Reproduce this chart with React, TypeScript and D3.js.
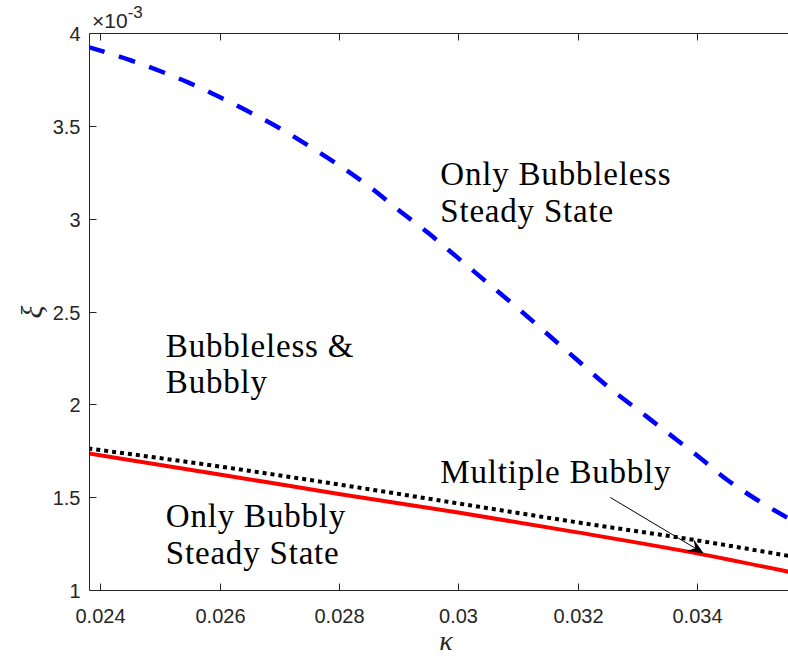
import React, { Component } from "react";
import * as d3 from "d3";

// kappa grid and curves (xi in units of 1e-3)
const kappa = [
  0.0238, 0.0245, 0.025, 0.0255, 0.026, 0.0265, 0.027, 0.0275, 0.028, 0.0285,
  0.029, 0.0295, 0.03, 0.0305, 0.031, 0.0315, 0.032, 0.0325, 0.033, 0.0335,
  0.034, 0.0345, 0.035, 0.0356,
];
const xiBubbleless = [
  3.927, 3.857, 3.798, 3.733, 3.658, 3.577, 3.491, 3.394, 3.291, 3.178, 3.049,
  2.925, 2.79, 2.655, 2.52, 2.38, 2.24, 2.1, 1.976, 1.852, 1.728, 1.598, 1.49,
  1.377,
];
const kappaLin = [0.0238, 0.026, 0.028, 0.03, 0.032, 0.034, 0.0356];
const xiBubbly = [1.739, 1.625, 1.52, 1.42, 1.313, 1.2, 1.097];
const xiMultiple = [1.765, 1.668, 1.571, 1.469, 1.367, 1.27, 1.183];

const xTicks = [0.024, 0.026, 0.028, 0.03, 0.032, 0.034];
const xTickLabels = ["0.024", "0.026", "0.028", "0.03", "0.032", "0.034"];
const yTicks = [1, 1.5, 2, 2.5, 3, 3.5, 4];
const yTickLabels = ["1", "1.5", "2", "2.5", "3", "3.5", "4"];

// region labels: [kappa, xi, text]
const regionLabels: [number, number, string][] = [
  [0.0297, 3.183, "Only Bubbleless"],
  [0.0297, 2.984, "Steady State"],
  [0.0251, 2.255, "Bubbleless &"],
  [0.0251, 2.065, "Bubbly"],
  [0.0297, 1.58, "Multiple Bubbly"],
  [0.0251, 1.34, "Only Bubbly"],
  [0.0251, 1.145, "Steady State"],
];
// arrow annotation: tail, tip
const arrowTail: [number, number] = [0.03255, 1.501];
const arrowTip: [number, number] = [0.034113, 1.201];

class PhaseChart extends Component {
  chRef: React.RefObject<SVGSVGElement>;

  constructor(props: any) {
    super(props);
    this.chRef = React.createRef();
  }

  componentDidMount(): any {
    this.drawChart();
  }

  drawChart(): any {
    const svg = d3.select(this.chRef.current);
    svg.selectAll("*").remove();

    const left = 89.5;
    const right = 790.5;
    const top = 33.5;
    const bottom = 590.5;

    const x = d3.scaleLinear().domain([0.02382, 0.03557]).range([left, right]);
    const y = d3.scaleLinear().domain([1, 4]).range([bottom, top]);

    svg
      .append("defs")
      .append("clipPath")
      .attr("id", "plotclip")
      .append("rect")
      .attr("x", left)
      .attr("y", top)
      .attr("width", right - left)
      .attr("height", bottom - top);

    const plot = svg.append("g").attr("clip-path", "url(#plotclip)");

    const line = d3
      .line<[number, number]>()
      .x((d) => x(d[0]))
      .y((d) => y(d[1]))
      .curve(d3.curveMonotoneX);

    // blue dashed
    plot
      .append("path")
      .attr("d", line(kappa.map((k, i) => [k, xiBubbleless[i]])))
      .attr("fill", "none")
      .attr("stroke", "#0000ff")
      .attr("stroke-width", 4.5)
      .attr("stroke-dasharray", "17,15");

    // red solid
    plot
      .append("path")
      .attr("d", line(kappaLin.map((k, i) => [k, xiBubbly[i]])))
      .attr("fill", "none")
      .attr("stroke", "#ff0000")
      .attr("stroke-width", 4);

    // black dotted
    plot
      .append("path")
      .attr("d", line(kappaLin.map((k, i) => [k, xiMultiple[i]])))
      .attr("fill", "none")
      .attr("stroke", "#000")
      .attr("stroke-width", 4)
      .attr("stroke-dasharray", "4,4");

    // axes lines
    const axisColor = "#262626";
    svg
      .append("path")
      .attr("d", `M${left},${top}V${bottom}H${right}M${left},${top}H${right}`)
      .attr("fill", "none")
      .attr("stroke", axisColor)
      .attr("stroke-width", 1);

    const tickLen = 7;
    xTicks.forEach((t, i) => {
      const px = Math.round(x(t)) + 0.5;
      svg
        .append("path")
        .attr("d", `M${px},${bottom}v${-tickLen}M${px},${top}v${tickLen}`)
        .attr("stroke", axisColor);
      svg
        .append("text")
        .attr("x", px)
        .attr("y", bottom + 32)
        .attr("text-anchor", "middle")
        .style("font-family", "Liberation Sans, Arial, sans-serif")
        .style("font-size", "20px")
        .style("fill", axisColor)
        .text(xTickLabels[i]);
    });

    yTicks.forEach((t, i) => {
      const py = Math.round(y(t) - 0.5) + 0.5;
      svg
        .append("path")
        .attr("d", `M${left},${py}h${tickLen}`)
        .attr("stroke", axisColor);
      svg
        .append("text")
        .attr("x", left - 9)
        .attr("y", py + 7)
        .attr("text-anchor", "end")
        .style("font-family", "Liberation Sans, Arial, sans-serif")
        .style("font-size", "20px")
        .style("fill", axisColor)
        .text(yTickLabels[i]);
    });

    // exponent
    const expo = svg
      .append("text")
      .attr("x", 92)
      .attr("y", 28)
      .style("font-family", "Liberation Sans, Arial, sans-serif")
      .style("font-size", "21px")
      .style("fill", axisColor);
    expo.append("tspan").text("\u00d710");
    expo
      .append("tspan")
      .attr("dy", -10)
      .style("font-size", "17px")
      .text("-3");

    // axis labels
    svg
      .append("text")
      .attr("x", (left + right) / 2 + 6)
      .attr("y", 650)
      .attr("text-anchor", "middle")
      .style("font-family", "Liberation Serif, serif")
      .style("font-style", "italic")
      .style("font-size", "28px")
      .style("fill", axisColor)
      .text("\u03ba");

    svg
      .append("text")
      .attr("transform", `translate(42,${(top + bottom) / 2}) rotate(-90)`)
      .attr("text-anchor", "middle")
      .style("font-family", "Liberation Serif, serif")
      .style("font-style", "italic")
      .style("font-size", "30px")
      .style("fill", axisColor)
      .text("\u03be");

    // region labels
    regionLabels.forEach(([k, v, s]) => {
      svg
        .append("text")
        .attr("x", x(k))
        .attr("y", y(v))
        .style("font-family", "Liberation Serif, serif")
        .style("font-size", "33px")
        .style("letter-spacing", "0.8px")
        .style("fill", "#000")
        .text(s);
    });

    // arrow
    const tx = x(arrowTail[0]);
    const ty = y(arrowTail[1]);
    const hx = x(arrowTip[0]);
    const hy = y(arrowTip[1]);
    const len = Math.hypot(hx - tx, hy - ty);
    const ux = (hx - tx) / len;
    const uy = (hy - ty) / len;
    const nx = -uy;
    const ny = ux;
    const L = 16;
    const W = 7;
    svg
      .append("line")
      .attr("x1", tx)
      .attr("y1", ty)
      .attr("x2", hx - ux * 8)
      .attr("y2", hy - uy * 8)
      .attr("stroke", "#000")
      .attr("stroke-width", 1);
    const head = [
      [hx, hy],
      [hx - ux * L + nx * W, hy - uy * L + ny * W],
      [hx - ux * L * 0.6, hy - uy * L * 0.6],
      [hx - ux * L - nx * W, hy - uy * L - ny * W],
    ];
    svg
      .append("path")
      .attr("d", "M" + head.map((p) => p.join(",")).join("L") + "Z")
      .attr("fill", "#000");
  }

  render(): any {
    return (
      <svg
        ref={this.chRef}
        width={788}
        height={664}
        style={{ position: "absolute", left: 0, top: 0, background: "#fff" }}
      />
    );
  }
}

export default function App() {
  return <PhaseChart />;
}
